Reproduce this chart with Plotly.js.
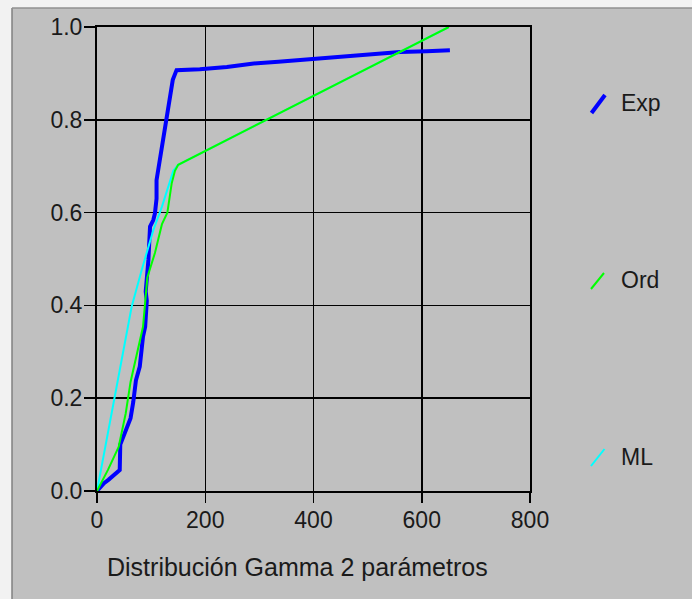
<!DOCTYPE html>
<html>
<head>
<meta charset="utf-8">
<script src="https://cdn.plot.ly/plotly-3.0.1.min.js"></script>
<style>html,body{margin:0;padding:0;background:#c0c0c0;}#chart{width:692px;height:599px;}</style>
</head>
<body>
<div id="chart"></div>
<script>
// ---- data ----
var seriesNames = ["Exp", "Ord", "ML"];
var seriesColors = ["#0000ff", "#00ff00", "#00ffff"];
var expX = [0, 13, 21, 42, 43, 53, 62, 67, 72, 79, 85, 89, 92, 90, 95, 98, 104, 107, 110, 110, 113, 119, 124, 130, 135, 140, 147, 190, 240, 286, 335, 378, 421, 470, 517, 560, 609, 652];
var expY = [0, 0.017, 0.024, 0.045, 0.10, 0.131, 0.157, 0.192, 0.239, 0.268, 0.333, 0.354, 0.41, 0.43, 0.498, 0.57, 0.584, 0.598, 0.63, 0.67, 0.692, 0.735, 0.771, 0.807, 0.857, 0.886, 0.907, 0.909, 0.914, 0.921, 0.925, 0.929, 0.932, 0.938, 0.943, 0.946, 0.948, 0.950];
var ordX = [0, 20, 40, 53, 62, 85, 93, 107, 120, 130, 138, 144, 150, 650];
var ordY = [0, 0.045, 0.095, 0.167, 0.235, 0.354, 0.46, 0.513, 0.575, 0.60, 0.663, 0.69, 0.703, 1.0];
var mlX = [0, 37, 50, 64, 83, 104, 120, 141, 150, 650];
var mlY = [0, 0.23, 0.31, 0.397, 0.478, 0.562, 0.613, 0.69, 0.703, 1.0];
var xTicks = [0, 200, 400, 600, 800];
var yTicks = [0, 0.2, 0.4, 0.6, 0.8, 1.0];
var axisTitle = "Distribución Gamma 2 parámetros";

// ---- layout geometry (pixels) ----
var W = 692, H = 599;
var L = 97, R = 530, T = 27, B = 491;
function px(x){ return (x - L) / (R - L); }
function py(y){ return (B - y) / (B - T); }

var font = "Liberation Sans, Arial, sans-serif";
var txtColor = "#1a1a1a";

var traces = [
  {x: expX, y: expY, name: seriesNames[0], mode: "lines", line: {color: seriesColors[0], width: 4}},
  {x: mlX, y: mlY, name: seriesNames[2], mode: "lines", line: {color: seriesColors[2], width: 2}},
  {x: ordX, y: ordY, name: seriesNames[1], mode: "lines", line: {color: seriesColors[1], width: 2}}
];

// legend (diagonal symbols + labels)
var legendPos = [
  {sym: [591.5, 113, 605, 95], tx: 619, ty: 103},
  {sym: [591, 289, 604, 273], tx: 619, ty: 280},
  {sym: [591, 466, 604.5, 449], tx: 619, ty: 457}
];
var legendWidths = [4, 2, 2];
var shapes = [
  // outer light margin and frame
  {type: "rect", xref: "paper", yref: "paper", x0: px(0), x1: px(12), y0: py(H), y1: py(0), fillcolor: "#f2f2f2", line: {width: 0}, layer: "below"},
  {type: "rect", xref: "paper", yref: "paper", x0: px(0), x1: px(W), y0: py(8), y1: py(0), fillcolor: "#f2f2f2", line: {width: 0}, layer: "below"},
  {type: "line", xref: "paper", yref: "paper", x0: px(12), x1: px(12), y0: py(H), y1: py(8), line: {color: "#808080", width: 1.5}},
  {type: "line", xref: "paper", yref: "paper", x0: px(12), x1: px(W), y0: py(8), y1: py(8), line: {color: "#909090", width: 1.5}}
];
var annotations = [];
for (var i = 0; i < seriesNames.length; i++) {
  var p = legendPos[i];
  shapes.push({type: "line", xref: "paper", yref: "paper", x0: px(p.sym[0]), y0: py(p.sym[1]), x1: px(p.sym[2]), y1: py(p.sym[3]), line: {color: seriesColors[i], width: legendWidths[i]}});
  annotations.push({xref: "paper", yref: "paper", x: px(p.tx), y: py(p.ty), xanchor: "left", yanchor: "middle", showarrow: false, text: seriesNames[i], font: {family: font, size: 23, color: txtColor}});
}
annotations.push({xref: "paper", yref: "paper", x: px(105), y: py(567), xanchor: "left", yanchor: "middle", showarrow: false, text: axisTitle, font: {family: font, size: 25, color: txtColor}});

var layout = {
  width: W, height: H,
  margin: {l: L, r: W - R, t: T, b: H - B, pad: 0},
  paper_bgcolor: "#c0c0c0",
  plot_bgcolor: "#c0c0c0",
  showlegend: false,
  font: {family: font, size: 23, color: txtColor},
  xaxis: {range: [0, 800], tickvals: xTicks, ticktext: xTicks.map(String), showgrid: true, gridcolor: "#000000", gridwidth: 1.5,
          zeroline: false, showline: true, linecolor: "#000000", linewidth: 2, mirror: true,
          ticks: "outside", ticklen: 10, tickwidth: 1.5, tickcolor: "#000000", ticklabelstandoff: -3, fixedrange: true},
  yaxis: {range: [0, 1], tickvals: yTicks, ticktext: yTicks.map(function(v){return v.toFixed(1);}), showgrid: true, gridcolor: "#000000", gridwidth: 1.5,
          zeroline: false, showline: true, linecolor: "#000000", linewidth: 2, mirror: true,
          ticks: "outside", ticklen: 11, tickwidth: 1.5, tickcolor: "#000000", ticklabelstandoff: -3, fixedrange: true},
  shapes: shapes,
  annotations: annotations
};
Plotly.newPlot("chart", traces, layout, {displayModeBar: false, staticPlot: true});
</script>
</body>
</html>
